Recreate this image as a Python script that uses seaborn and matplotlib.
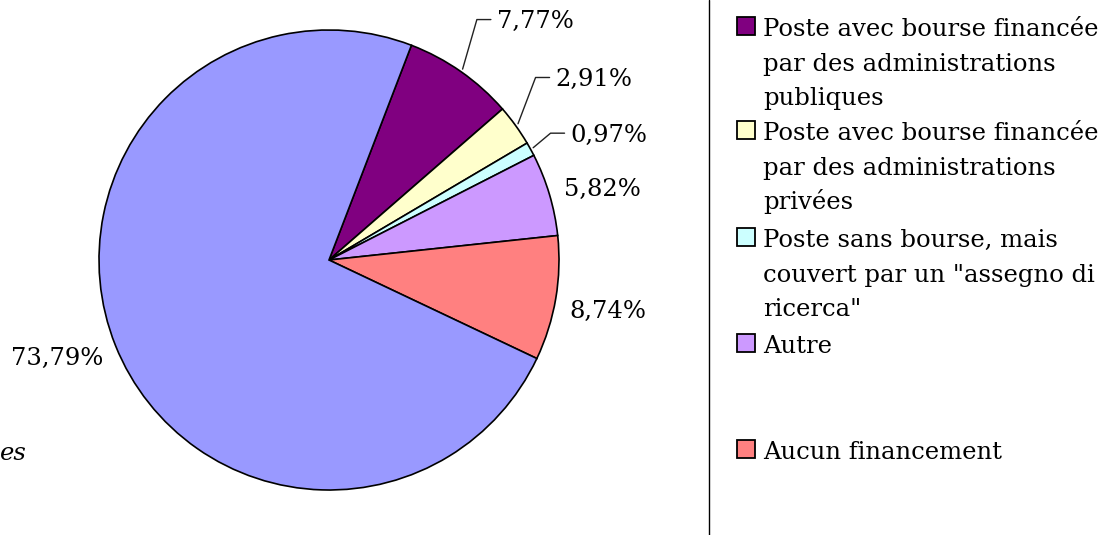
import matplotlib
matplotlib.use("Agg")
import matplotlib.pyplot as plt
import seaborn as sns
import numpy as np
from matplotlib.patches import Rectangle

# --- données ---
categories = [
    "Poste avec bourse financée\npar des administrations\npubliques",
    "Poste avec bourse financée\npar des administrations\nprivées",
    "Poste sans bourse, mais\ncouvert par un \"assegno di\nricerca\"",
    "Autre",
    "Aucun financement",
    "Poste avec bourse financée par l'université",
]
valeurs = [7.77, 2.91, 0.97, 5.82, 8.74, 73.79]
etiquettes = ["7,77%", "2,91%", "0,97%", "5,82%", "8,74%", "73,79%"]
couleurs = ["#800080", "#FFFFCC", "#CCFFFF", "#CC99FF", "#FF8080", "#9999FF"]

# style des étiquettes : décalage (px) depuis le bord de la part, trait de rappel
decalages = [(36, 50), (40, 46), (40, 14), (15, 5), (14, -13), (-12, -13)]
rappel = [True, True, True, False, False, False]

sns.set_theme(style="white")
plt.rcParams["font.family"] = ["DejaVu Serif"]
taille = 17.5
pas_ligne = 34.7  # px entre deux lignes de légende

fig = plt.figure(figsize=(11.12, 5.35), dpi=100)
ax = fig.add_axes([0, 0, 1, 1])

centre = (329, 275)
rayon = 230
parts, _ = ax.pie(valeurs, colors=couleurs, startangle=69, counterclock=False,
                  center=centre, radius=rayon,
                  wedgeprops=dict(edgecolor="black", linewidth=1.2))

for part, txt, (dx, dy), trait in zip(parts, etiquettes, decalages, rappel):
    ang = np.deg2rad((part.theta1 + part.theta2) / 2)
    bx = centre[0] + rayon * np.cos(ang)
    by = centre[1] + rayon * np.sin(ang)
    tx, ty = bx + dx, by + dy
    ha = "left" if dx > 0 else "right"
    ax.text(tx, ty, txt, ha=ha, va="center", fontsize=taille, color="black")
    if trait:
        ax.plot([bx + 3 * np.cos(ang), tx - 20, tx - 6], [by + 3 * np.sin(ang), ty + 2, ty + 2],
                color="#222222", linewidth=1)

# légende (5 premières catégories), une ligne de texte par ligne
lignes_base = [36, 140, 247, 353, 459]
for cat, coul, yb in zip(categories[:5], couleurs[:5], lignes_base):
    y = 535 - yb
    ax.add_patch(Rectangle((737, y + 1), 18, 18, facecolor=coul, edgecolor="black", linewidth=1.3))
    for k, ligne in enumerate(cat.split("\n")):
        ax.text(763, y - k * pas_ligne, ligne, ha="left", va="baseline",
                fontsize=taille, color="black")

# séparateur vertical et texte coupé à gauche
ax.plot([709, 709], [0, 535], color="black", linewidth=1)
ax.text(0, 535 - 460, "es", ha="left", va="baseline", fontsize=taille, style="italic", color="black")

ax.set_xlim(0, 1112)
ax.set_ylim(0, 535)
ax.set_aspect("equal")
ax.axis("off")

fig.savefig("out.png", dpi=100, facecolor="white")
